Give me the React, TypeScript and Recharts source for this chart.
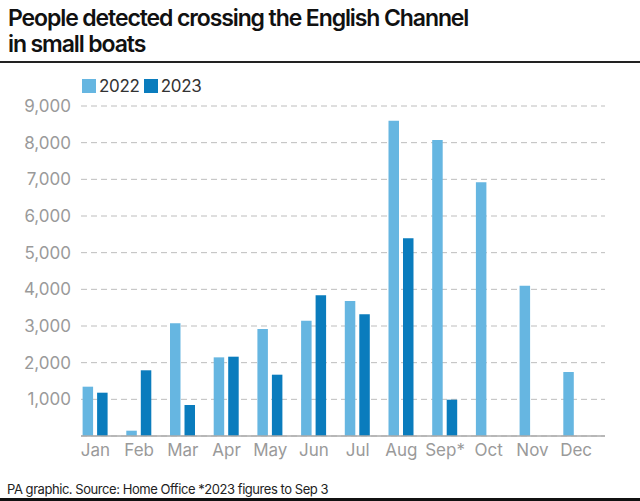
import { Bar, BarChart, CartesianGrid, XAxis, YAxis } from "recharts"

// Monthly small-boat crossings
const months = ["Jan", "Feb", "Mar", "Apr", "May", "Jun", "Jul", "Aug", "Sep*", "Oct", "Nov", "Dec"]
const y2022 = [1345, 145, 3073, 2145, 2918, 3145, 3682, 8599, 8072, 6918, 4099, 1745]
const y2023: (number | null)[] = [1181, 1792, 845, 2163, 1672, 3837, 3319, 5391, 990, null, null, null]
const yTicks = [1000, 2000, 3000, 4000, 5000, 6000, 7000, 8000, 9000]

const LIGHT = "#66b6e1"
const DARK = "#0a7cbd"

const data = months.map((m, i) => ({ month: m, a: y2022[i], b: y2023[i] }))

const fmt = (v: number) => v.toLocaleString("en-GB")

function LegendBox() {
  const item = (color: string, label: string) => (
    <span style={{ display: "inline-flex", alignItems: "center", marginRight: 4 }}>
      <span style={{ width: 14, height: 14, background: color, display: "inline-block", marginRight: 3 }} />
      <span style={{ fontSize: 17, color: "#333", letterSpacing: -0.3 }}>{label}</span>
    </span>
  )
  return (
    <div style={{ display: "flex", position: "absolute", top: 76, left: 82 }}>
      {item(LIGHT, "2022")}
      {item(DARK, "2023")}
    </div>
  )
}

export default function App() {
  return (
    <div
      style={{
        position: "absolute",
        top: 0,
        left: 0,
        width: 640,
        height: 501,
        background: "#fff",
        fontFamily: "Inter, 'Liberation Sans', sans-serif",
        overflow: "hidden",
      }}
    >
      <div
        style={{
          position: "absolute",
          top: 5,
          left: 8,
          fontSize: 23,
          fontWeight: 600,
          lineHeight: "26px",
          letterSpacing: -1.1,
          color: "#111",
        }}
      >
        People detected crossing the English Channel
        <br />
        in small boats
      </div>
      <div style={{ position: "absolute", top: 61, left: 0, width: 640, height: 2, background: "#222" }} />

      <div style={{ position: "absolute", top: 0, left: 0 }}>
        <BarChart
          width={640}
          height={470}
          data={data}
          margin={{ top: 106, right: 35, bottom: 0, left: 0 }}
          barSize={10.5}
          barGap={4}
        >
          <CartesianGrid vertical={false} stroke="#bdbdbd" strokeDasharray="6 4" />
          <XAxis
            dataKey="month"
            height={34}
            padding={{ left: -7.4, right: 7 }}
            tickLine={false}
            tickSize={0}
            tickMargin={8}
            axisLine={{ stroke: "#aaa", strokeWidth: 1.5 }}
            tick={{ fill: "#9a9a9a", fontSize: 17 }}
            interval={0}
          />
          <YAxis
            width={81}
            domain={[0, 9000]}
            ticks={yTicks}
            tickFormatter={fmt}
            axisLine={false}
            tickLine={false}
            tickSize={0}
            tickMargin={10}
            tick={{ fill: "#9a9a9a", fontSize: 17 }}
          />
          <Bar dataKey="a" name="2022" fill={LIGHT} isAnimationActive={false} />
          <Bar dataKey="b" name="2023" fill={DARK} isAnimationActive={false} />
        </BarChart>
      </div>
      <LegendBox />

      <div
        style={{
          position: "absolute",
          top: 481,
          left: 7,
          fontSize: 13,
          color: "#222",
          letterSpacing: -0.45,
        }}
      >
        PA graphic. Source: Home Office *2023 figures to Sep 3
      </div>
      <div style={{ position: "absolute", top: 498, left: 0, width: 640, height: 3, background: "#111" }} />
    </div>
  )
}
